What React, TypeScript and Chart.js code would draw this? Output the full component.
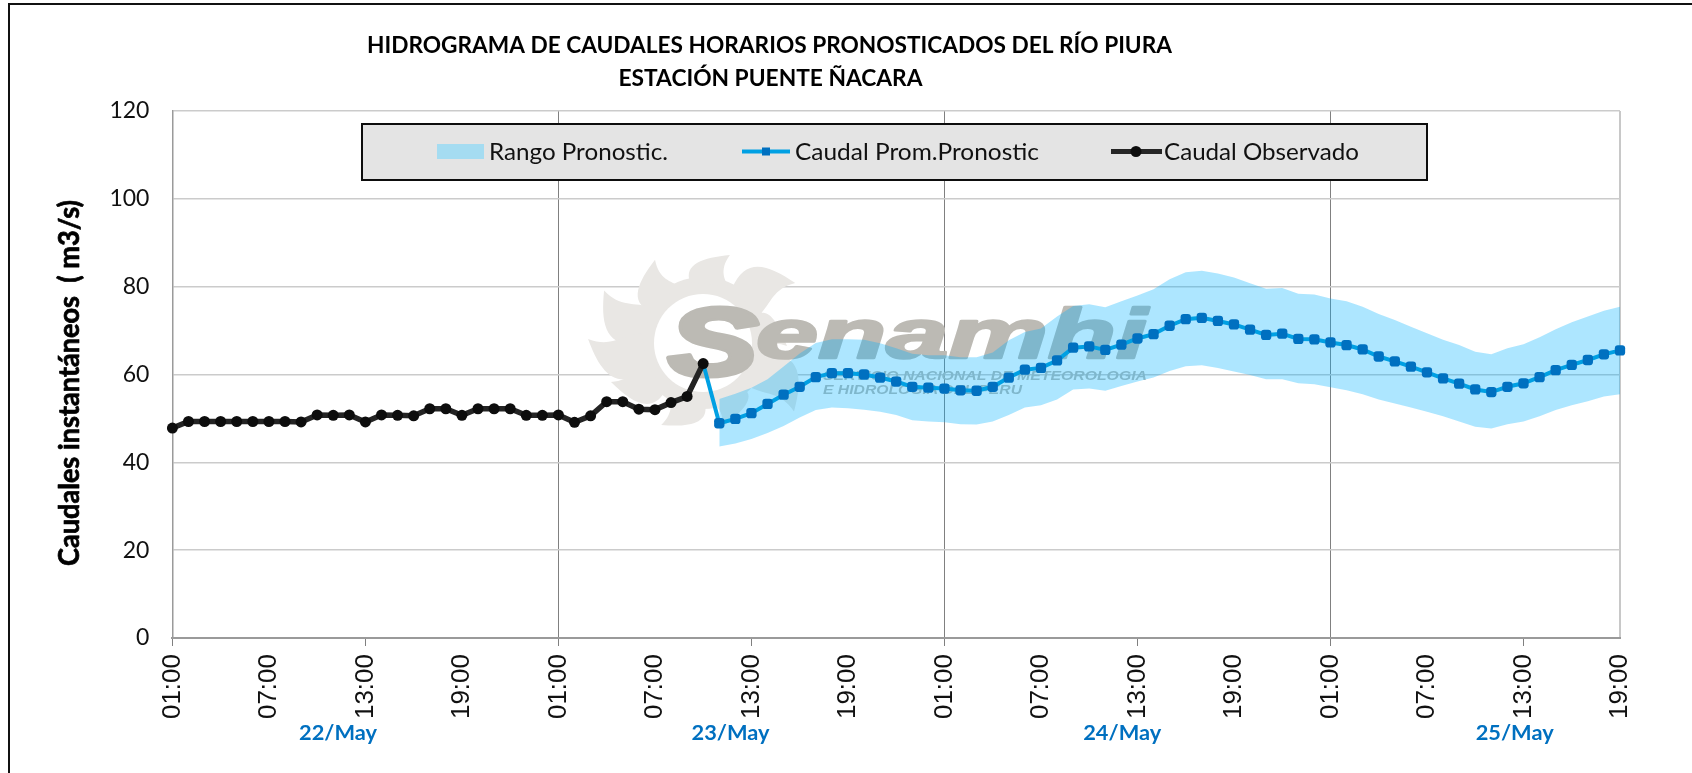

import React, { useEffect, useRef } from "react";
import { Chart, registerables } from "chart.js";

Chart.register(...registerables);

const categories = [
  "01:00","02:00","03:00","04:00","05:00","06:00","07:00","08:00","09:00","10:00","11:00","12:00",
  "13:00","14:00","15:00","16:00","17:00","18:00","19:00","20:00","21:00","22:00","23:00","00:00",
  "01:00","02:00","03:00","04:00","05:00","06:00","07:00","08:00","09:00","10:00","11:00","12:00",
  "13:00","14:00","15:00","16:00","17:00","18:00","19:00","20:00","21:00","22:00","23:00","00:00",
  "01:00","02:00","03:00","04:00","05:00","06:00","07:00","08:00","09:00","10:00","11:00","12:00",
  "13:00","14:00","15:00","16:00","17:00","18:00","19:00","20:00","21:00","22:00","23:00","00:00",
  "01:00","02:00","03:00","04:00","05:00","06:00","07:00","08:00","09:00","10:00","11:00","12:00",
  "13:00","14:00","15:00","16:00","17:00","18:00","19:00",
];

const observed = [
  47.8,49.3,49.3,49.3,49.3,49.3,49.3,49.3,49.2,50.8,50.7,50.8,49.2,50.8,50.7,50.6,52.2,
  52.2,50.7,52.2,52.2,52.2,50.7,50.7,50.8,49.1,50.6,53.8,53.8,52.1,52.0,53.6,55.0,62.5,
];

const forecastMean = [
  62.5,48.9,49.9,51.2,53.3,55.4,57.2,59.4,60.3,60.3,60.0,59.3,58.4,57.2,57.0,56.8,56.4,56.3,
  57.2,59.3,61.1,61.5,63.2,66.1,66.4,65.6,66.8,68.2,69.2,71.1,72.6,72.9,72.2,71.4,70.2,69.0,
  69.3,68.1,68.0,67.3,66.7,65.7,64.1,63.0,61.8,60.5,59.1,57.9,56.6,56.0,57.2,58.0,59.4,61.0,
  62.2,63.3,64.6,65.5,
];

const rangeUpper = [
  54.4,55.6,57.0,58.9,61.8,64.8,67.2,68.0,68.0,67.9,67.1,66.0,64.7,64.4,64.4,63.9,63.9,65.0,
  67.8,69.7,70.5,73.2,75.6,76.0,75.3,76.7,78.0,79.4,81.7,83.3,83.6,83.0,82.1,80.8,79.5,79.7,
  78.4,78.2,77.3,76.7,75.4,73.8,72.4,70.9,69.4,67.9,66.7,65.2,64.6,66.0,66.9,68.5,70.3,71.9,
  73.2,74.5,75.4,
];

const rangeLower = [
  43.6,44.3,45.3,46.7,48.3,50.2,51.9,52.5,52.3,52.0,51.5,50.8,49.6,49.3,49.1,48.7,48.6,49.3,
  50.8,52.5,53.0,54.3,56.6,56.8,56.3,57.4,58.4,59.3,60.8,61.9,62.1,61.5,60.7,59.9,58.9,58.9,
  58.0,57.8,57.1,56.4,55.5,54.3,53.4,52.5,51.5,50.5,49.3,48.1,47.7,48.7,49.3,50.5,51.9,53.0,
  53.9,55.0,55.5,
];

const titleLines = [
  "HIDROGRAMA DE CAUDALES HORARIOS PRONOSTICADOS DEL RÍO PIURA",
  "ESTACIÓN PUENTE ÑACARA",
];
const yAxisTitle = "Caudales instantáneos  ( m3/s)";
const dayLabels = ["22/May", "23/May", "24/May", "25/May"];
const legendNames = ["Rango Pronostic.", "Caudal Prom.Pronostic", "Caudal Observado"];

const W = 1692;
const H = 773;
const UI = "Lato, 'Noto Sans', sans-serif";
const ARIAL = "'Liberation Sans', Arial, sans-serif";
const NARROW = "'Liberation Sans Narrow', 'Liberation Sans', sans-serif";
const BAND = "rgba(0,177,255,0.32)";

const fitText = (ctx: CanvasRenderingContext2D, text: string, x: number, baseline: number, width: number, stroke = 0) => {
  const m = ctx.measureText(text).width;
  ctx.save();
  ctx.translate(x, baseline);
  ctx.scale(width / m, 1);
  ctx.textAlign = "left";
  ctx.textBaseline = "alphabetic";
  if (stroke > 0) {
    ctx.lineJoin = "round";
    ctx.lineWidth = stroke;
    ctx.strokeStyle = ctx.fillStyle as string;
    ctx.strokeText(text, 0, 0);
  }
  ctx.fillText(text, 0, 0);
  ctx.restore();
};

const watermark = {
  id: "watermark",
  beforeDatasetsDraw(chart: any) {
    const ctx = chart.ctx as CanvasRenderingContext2D;
    const cx = 703, cy = 343;
    const rays = [[-80,92],[-40,110],[-127,96],[-159,112],[175,115],[150,100],[110,92],[70,86],[30,114],[-5,84]];
    ctx.save();
    ctx.fillStyle = "#e9e7e4";
    ctx.beginPath();
    ctx.arc(cx, cy, 66, 0, Math.PI * 2);
    ctx.fill();
    const P = (deg: number, r: number) => {
      const a = (deg * Math.PI) / 180;
      return [cx + r * Math.cos(a), cy + r * Math.sin(a)];
    };
    rays.forEach(([a, R]) => {
      const b0 = P(a - 22, 62), b1 = P(a + 14, 62), tip = P(a + 7, R);
      const c0 = P(a - 24, R * 0.88), c0b = P(a - 10, R * 0.93);
      const c1 = P(a + 2, R * 0.8), c1b = P(a + 10, R * 0.72);
      ctx.beginPath();
      ctx.moveTo(b0[0], b0[1]);
      ctx.bezierCurveTo(c0[0], c0[1], c0b[0], c0b[1], tip[0], tip[1]);
      ctx.bezierCurveTo(c1[0], c1[1], c1b[0], c1b[1], b1[0], b1[1]);
      ctx.closePath();
      ctx.fill();
    });
    ctx.fillStyle = "#ffffff";
    ctx.beginPath();
    ctx.arc(cx, cy, 49, 0, Math.PI * 2);
    ctx.fill();
    ctx.fillStyle = "#bcbab4";
    ctx.font = `italic bold 96px ${ARIAL}`;
    fitText(ctx, "S", 668, 375, 90, 5);
    ctx.font = `italic bold 70px ${ARIAL}`;
    fitText(ctx, "enamhi", 756, 358, 391, 2.5);
    ctx.font = `italic bold 13px ${ARIAL}`;
    fitText(ctx, "SERVICIO NACIONAL DE METEOROLOGIA", 823, 380, 324);
    fitText(ctx, "E HIDROLOGIA DEL PERU", 823, 394, 199);
    ctx.restore();
  },
};

const decorations = {
  id: "decorations",
  afterDatasetsDraw(chart: any) {
    const ctx = chart.ctx as CanvasRenderingContext2D;
    const x = chart.scales.x;
    ctx.save();

    ctx.strokeStyle = "#111111";
    ctx.lineWidth = 2;
    ctx.beginPath();
    ctx.moveTo(9, H);
    ctx.lineTo(9, 4);
    ctx.lineTo(W, 4);
    ctx.stroke();

    ctx.fillStyle = "#000000";
    ctx.font = `bold 23px ${UI}`;
    fitText(ctx, titleLines[0], 367, 52.5, 805);
    fitText(ctx, titleLines[1], 618.5, 85.5, 304);

    ctx.save();
    ctx.translate(79, 383);
    ctx.rotate(-Math.PI / 2);
    ctx.font = `bold 28px ${UI}`;
    fitText(ctx, yAxisTitle, -183, 0, 366, 0.7);
    ctx.restore();

    // legend box
    ctx.fillStyle = "#e4e4e4";
    ctx.strokeStyle = "#0d0d0d";
    ctx.lineWidth = 2;
    ctx.fillRect(362, 124, 1065, 56);
    ctx.strokeRect(362, 124, 1065, 56);
    ctx.fillStyle = "#a5dcf1";
    ctx.fillRect(437, 144, 47, 15);

    ctx.strokeStyle = "#00a0e3";
    ctx.lineWidth = 4;
    ctx.beginPath();
    ctx.moveTo(742, 151.5);
    ctx.lineTo(790, 151.5);
    ctx.stroke();
    ctx.fillStyle = "#0070c0";
    ctx.fillRect(762, 147.5, 8, 8);

    ctx.strokeStyle = "#262626";
    ctx.lineWidth = 5;
    ctx.beginPath();
    ctx.moveTo(1111, 151.5);
    ctx.lineTo(1162, 151.5);
    ctx.stroke();
    ctx.fillStyle = "#0d0d0d";
    ctx.beginPath();
    ctx.arc(1136, 151.5, 5.5, 0, Math.PI * 2);
    ctx.fill();

    ctx.fillStyle = "#111111";
    ctx.font = `23px ${UI}`;
    fitText(ctx, legendNames[0], 489, 159.5, 179);
    fitText(ctx, legendNames[1], 795, 159.5, 244);
    fitText(ctx, legendNames[2], 1164, 159.5, 195);

    // day labels, positioned through the category scale
    ctx.fillStyle = "#0070c0";
    ctx.font = `bold 21px ${UI}`;
    [10.3, 34.7, 59.05, 83.45].forEach((h, i) => {
      fitText(ctx, dayLabels[i], x.getPixelForValue(h) - 39, 740, 78);
    });
    ctx.restore();
  },
};

export default function App() {
  const ref = useRef<HTMLCanvasElement>(null);
  useEffect(() => {
    document.body.style.margin = "0";
    document.body.style.background = "#ffffff";
    const pad = (arr: number[]) => [...Array(33 + (arr === forecastMean ? 0 : 1)).fill(null), ...arr];
    const chart = new Chart(ref.current as HTMLCanvasElement, {
      type: "line",
      data: {
        labels: categories,
        datasets: [
          {
            label: "Caudal Observado",
            data: observed,
            borderColor: "#242424",
            backgroundColor: "#0d0d0d",
            borderWidth: 5.5,
            pointRadius: 5.5,
            pointBackgroundColor: "#0d0d0d",
            pointBorderWidth: 0,
            tension: 0,
            fill: false,
          },
          {
            label: "Caudal Prom.Pronostic",
            data: pad(forecastMean),
            borderColor: "#00a0e3",
            borderWidth: 4,
            pointStyle: "rectRounded",
            pointRadius: (c: any) => (c.dataIndex === 33 ? 0 : 6),
            pointBackgroundColor: "#0070c0",
            pointBorderWidth: 0,
            tension: 0,
            fill: false,
          },
          {
            label: "Rango Pronostic.",
            data: pad(rangeUpper),
            borderWidth: 0,
            borderColor: "transparent",
            backgroundColor: BAND,
            pointRadius: 0,
            tension: 0,
            fill: "+1",
          },
          {
            label: "Rango inferior",
            data: pad(rangeLower),
            borderWidth: 0,
            borderColor: "transparent",
            pointRadius: 0,
            tension: 0,
            fill: false,
          },
        ],
      },
      options: {
        responsive: false,
        animation: false,
        layout: { padding: { top: 111, right: 72, left: 0, bottom: 0 } },
        plugins: { legend: { display: false }, title: { display: false }, tooltip: { enabled: false } },
        scales: {
          x: {
            type: "category",
            offset: false,
            afterFit: (s: any) => { s.height = 135; },
            border: { color: "#9a9a9a", width: 2 },
            grid: {
              color: (c: any) => (c.index === 90 ? "#c8c8c8" : c.index % 24 === 0 ? "#808080" : "transparent"),
              lineWidth: (c: any) => (c.index === 90 ? 2 : 1),
              tickColor: (c: any) => (c.index % 12 === 0 ? "#808080" : "transparent"),
              tickLength: 8,
            },
            ticks: {
              autoSkip: false,
              minRotation: 90,
              maxRotation: 90,
              padding: 8,
              color: "#111111",
              font: { family: NARROW, size: 26 },
              callback: (_v: any, i: number) => (i % 6 === 0 ? categories[i] : ""),
            },
          },
          y: {
            min: 0,
            max: 120,
            afterFit: (s: any) => { s.width = 172.4; },
            border: { color: "#9a9a9a", width: 1.5 },
            grid: { color: "#cbcbcb", lineWidth: 1.5, drawTicks: false },
            ticks: {
              stepSize: 20,
              padding: 23,
              color: "#111111",
              font: { family: UI, size: 23 },
            },
          },
        },
      },
      plugins: [watermark, decorations],
    } as any);
    return () => chart.destroy();
  }, []);
  return (
    <div style={{ position: "absolute", left: 0, top: 0, width: W, height: H, background: "#fff" }}>
      <canvas ref={ref} width={W} height={H} style={{ display: "block" }} />
    </div>
  );
}
